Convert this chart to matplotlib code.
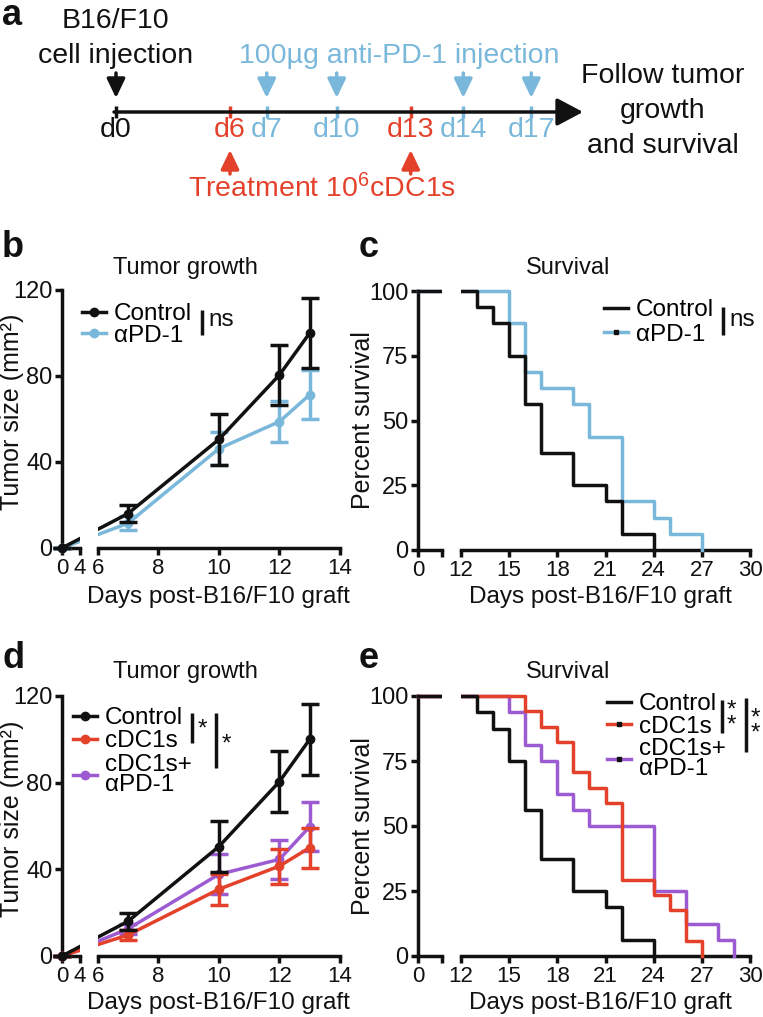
import numpy as np
import matplotlib
matplotlib.use("Agg")
import matplotlib.pyplot as plt
from matplotlib.lines import Line2D
from matplotlib.patches import Rectangle

plt.rcParams['font.family'] = ['Liberation Sans', 'DejaVu Sans']
plt.rcParams['mathtext.fontset'] = 'custom'
plt.rcParams['mathtext.rm'] = 'Liberation Sans'
plt.rcParams['mathtext.it'] = 'Liberation Sans:italic'
plt.rcParams['mathtext.bf'] = 'Liberation Sans:bold'

# ---------------- data ----------------
growth_days = [0, 7, 10, 12, 13]
growth_ctrl = [0, 16.0, 50.5, 80.5, 100.0]
growth_ctrl_err = [0, 4.0, 11.7, 14.0, 16.3]
growth_pd1 = [0, 11.5, 46.2, 58.8, 71.3]
growth_pd1_err = [0, 3.2, 7.6, 9.5, 11.3]
growth_cdc1 = [0, 9.7, 30.8, 41.5, 50.0]
growth_cdc1_err = [0, 2.5, 7.2, 8.1, 9.2]
growth_combo = [0, 12.5, 37.7, 44.6, 59.7]
growth_combo_err = [0, 2.5, 9.2, 9.0, 11.2]

surv_ctrl_t = [0, 13, 14, 15, 16, 17, 19, 21, 22, 24]
surv_ctrl = [100, 93.75, 87.5, 75, 56.25, 37.5, 25, 18.75, 6.25, 0]
surv_pd1_t = [0, 15, 16, 17, 19, 20, 22, 24, 25, 27]
surv_pd1 = [100, 87.5, 68.75, 62.5, 56.25, 43.75, 18.75, 12.5, 6.25, 0]
surv_cdc1_t = [0, 16, 17, 18, 19, 20, 21, 22, 24, 25, 26, 27]
surv_cdc1 = [100, 94.1, 88.2, 82.4, 70.6, 64.7, 58.8, 29.4, 23.5, 17.6, 5.9, 0]
surv_combo_t = [0, 15, 16, 17, 18, 19, 20, 24, 26, 28, 29]
surv_combo = [100, 93.75, 81.25, 75, 62.5, 56.25, 50, 25, 12.5, 6.25, 0]

growth_xticks_left = [0, 4]
growth_xticks_right = [6, 8, 10, 12, 14]
growth_yticks = [0, 40, 80, 120]
surv_xticks_left = [0, 7]
surv_xticklabels_left = ['0', '']
surv_xticks_right = [12, 15, 18, 21, 24, 27, 30]
surv_yticks = [0, 25, 50, 75, 100]

timeline_days = ['d0', 'd6', 'd7', 'd10', 'd13', 'd14', 'd17']
timeline_kind = ['cells', 'cdc1', 'pd1', 'pd1', 'cdc1', 'pd1', 'pd1']

# ---------------- style ----------------
W, H = 763, 1017
BLACK = '#111111'
BLUE = '#79B8DA'
RED = '#E4412B'
PURPLE = '#9D5BD2'
LW = 2.5
FS = 17.5      # labels, legends
FSTITLE = 17
FSY = 17       # y tick labels
FSX = 16       # x tick labels
FSA = 20.5     # panel a

fig = plt.figure(figsize=(W / 100, H / 100), dpi=100)


def px_rect(x0, x1, ytop, ybot):
    return [x0 / W, 1 - ybot / H, (x1 - x0) / W, (ybot - ytop) / H]


def make_funcs(D, P):
    D = np.asarray(D, float)
    P = np.asarray(P, float)

    def lin(x, A, B):
        x = np.asarray(x, float)
        y = np.interp(x, A, B)
        y = np.where(x < A[0], B[0] + (x - A[0]) * (B[1] - B[0]) / (A[1] - A[0]), y)
        y = np.where(x > A[-1], B[-1] + (x - A[-1]) * (B[-1] - B[-2]) / (A[-1] - A[-2]), y)
        return y

    return (lambda x: lin(x, D, P)), (lambda y: lin(y, P, D))


def broken_axes(D, P, x0, ytop, ybot, ylim, yticks):
    fwd, inv = make_funcs(D, P)
    axL = fig.add_axes(px_rect(x0 + P[0], x0 + P[1], ytop, ybot))
    axR = fig.add_axes(px_rect(x0 + P[2], x0 + P[-1], ytop, ybot))
    for ax, lim in ((axL, (D[0], D[1])), (axR, (D[2], D[-1]))):
        ax.set_xscale('function', functions=(fwd, inv))
        ax.set_xlim(lim)
        ax.set_ylim(ylim)
        ax.patch.set_visible(False)
        for s in ('top', 'right'):
            ax.spines[s].set_visible(False)
        for s in ('left', 'bottom'):
            ax.spines[s].set_linewidth(LW)
            ax.spines[s].set_color(BLACK)
        ax.tick_params(direction='out', length=5, width=LW, colors=BLACK, pad=2)
        ax.tick_params(axis='x', labelsize=FSX)
        ax.tick_params(axis='y', labelsize=FSY)
    axL.set_yticks(yticks)
    axR.spines['left'].set_visible(False)
    axR.tick_params(axis='y', left=False, labelleft=False)
    return axL, axR


def clip_all(axL, axR):
    for ax, rect in ((axL, (-0.8, -0.06, 1.8, 1.2)), (axR, (0.0, -0.06, 1.1, 1.2))):
        r = Rectangle(rect[:2], rect[2], rect[3], transform=ax.transAxes)
        for art in list(ax.lines) + list(ax.collections):
            art.set_clip_path(r)


def growth_series(axs, y, err, color, z):
    handle = None
    for ax in axs:
        cont = ax.errorbar(growth_days, y, yerr=err, color=color, lw=LW,
                           marker='o', ms=6, elinewidth=LW, capsize=6.5,
                           capthick=LW, zorder=z)
        handle = cont[0]
    return handle


def surv_series(axs, t, s, color, z):
    for ax in axs:
        ax.step(t, s, where='post', color=color, lw=LW, zorder=z)


# overlay in pixel coordinates for annotations
ov = fig.add_axes([0, 0, 1, 1], zorder=10)
ov.set_xlim(0, W)
ov.set_ylim(H, 0)
ov.axis('off')
ov.patch.set_visible(False)

# ---------------- panel a ----------------
tl_x = [116, 230, 266.7, 336.7, 410.7, 463.3, 531.3]
kind_color = {'cells': BLACK, 'cdc1': RED, 'pd1': BLUE}
ov.annotate('', xy=(583, 112), xytext=(114, 112),
            arrowprops=dict(arrowstyle='-|>,head_length=1.6,head_width=0.85',
                            mutation_scale=10, lw=LW, color=BLACK,
                            shrinkA=0, shrinkB=0))
for lab, kind, x in zip(timeline_days, timeline_kind, tl_x):
    c = kind_color[kind]
    ov.plot([x, x], [106, 118], color=c, lw=LW, solid_capstyle='butt')
    ov.text(x, 137, lab, color=c, fontsize=FSA, ha='center', va='baseline')
    if kind == 'cdc1':
        tail, tip = 174, 150
    else:
        tail, tip = 73, 98
    ov.annotate('', xy=(x, tip), xytext=(x, tail),
                arrowprops=dict(arrowstyle='-|>,head_length=1.15,head_width=0.55',
                                mutation_scale=10, lw=LW, color=c,
                                shrinkA=0, shrinkB=0))
ov.text(115, 28, 'B16/F10', fontsize=FSA, ha='center', va='baseline', color=BLACK)
ov.text(115.5, 63, 'cell injection', fontsize=FSA, ha='center', va='baseline', color=BLACK)
ov.text(399.5, 63, '100µg anti-PD-1 injection', fontsize=FSA, ha='center',
        va='baseline', color=BLUE)
ov.text(322, 197, 'Treatment 10$^{6}$cDC1s', fontsize=FSA, ha='center',
        va='baseline', color=RED)
for yb, line in zip([83, 118, 153], ['Follow tumor', 'growth', 'and survival']):
    ov.text(663, yb, line, fontsize=FSA, ha='center', va='baseline', color=BLACK)

# panel letters
for lx, ly, letter in [(2, 25, 'a'), (2, 257, 'b'), (359, 257, 'c'),
                       (2, 668, 'd'), (359, 668, 'e')]:
    ov.text(lx, ly, letter, fontsize=26, fontweight='bold', ha='left',
            va='baseline', color=BLACK)

# ---------------- panel b ----------------
GD = [0, 4, 6, 14]
GP = [0, 18, 35.7, 278]
bL, bR = broken_axes(GD, GP, 62, 290, 548, (0, 120), growth_yticks)
h_ctrl_b = growth_series((bL, bR), growth_ctrl, growth_ctrl_err, BLACK, 5)
h_pd1_b = growth_series((bL, bR), growth_pd1, growth_pd1_err, BLUE, 4)
bL.set_xticks(growth_xticks_left)
bR.set_xticks(growth_xticks_right)
for ax in (bL, bR):
    ax.set_xticklabels([str(v) for v in ax.get_xticks()])
clip_all(bL, bR)

# ---------------- panel d ----------------
dL, dR = broken_axes(GD, GP, 62, 696, 956, (0, 120), growth_yticks)
h_ctrl_d = growth_series((dL, dR), growth_ctrl, growth_ctrl_err, BLACK, 5)
h_combo_d = growth_series((dL, dR), growth_combo, growth_combo_err, PURPLE, 3)
h_cdc1_d = growth_series((dL, dR), growth_cdc1, growth_cdc1_err, RED, 4)
dL.set_xticks(growth_xticks_left)
dR.set_xticks(growth_xticks_right)
for ax in (dL, dR):
    ax.set_xticklabels([str(v) for v in ax.get_xticks()])
clip_all(dL, dR)

# ---------------- panel c ----------------
SD = [0, 7, 12, 30]
SP = [0, 24, 43, 332]
cL, cR = broken_axes(SD, SP, 418, 291, 550, (0, 100), surv_yticks)
surv_series((cL, cR), surv_pd1_t, surv_pd1, BLUE, 3)
surv_series((cL, cR), surv_ctrl_t, surv_ctrl, BLACK, 4)
cL.set_xticks(surv_xticks_left)
cL.set_xticklabels(surv_xticklabels_left)
cR.set_xticks(surv_xticks_right)
cR.set_xticklabels([str(v) for v in surv_xticks_right])
clip_all(cL, cR)

# ---------------- panel e ----------------
eL, eR = broken_axes(SD, SP, 418, 696, 956, (0, 100), surv_yticks)
surv_series((eL, eR), surv_combo_t, surv_combo, PURPLE, 3)
surv_series((eL, eR), surv_cdc1_t, surv_cdc1, RED, 4)
surv_series((eL, eR), surv_ctrl_t, surv_ctrl, BLACK, 5)
eL.set_xticks(surv_xticks_left)
eL.set_xticklabels(surv_xticklabels_left)
eR.set_xticks(surv_xticks_right)
eR.set_xticklabels([str(v) for v in surv_xticks_right])
clip_all(eL, eR)

# ---------------- titles & labels ----------------
for (x, y, t) in [(185.5, 268, 'Tumor growth'), (568, 268, 'Survival'),
                  (185.5, 672, 'Tumor growth'), (568, 672, 'Survival')]:
    ov.text(x, y, t, fontsize=FSTITLE, ha='center', va='center', color=BLACK)
for (x, y) in [(218.5, 597), (600, 597), (218.5, 1003), (600, 1003)]:
    ov.text(x, y, 'Days post-B16/F10 graft', fontsize=FS, ha='center',
            va='center', color=BLACK)
for (x, y, t) in [(12, 412, 'Tumor size (mm²)'), (12, 819, 'Tumor size (mm²)'),
                  (363, 420, 'Percent survival'), (363, 826, 'Percent survival')]:
    ov.text(x, y, t, fontsize=FS + 0.5, ha='center', va='center', rotation=90,
            color=BLACK)

# ---------------- legends ----------------
leg_kw = dict(loc='upper left', frameon=False, fontsize=FS, handlelength=1.0,
              handletextpad=0.3, borderpad=0,
              borderaxespad=0, bbox_transform=ov.transData)


def add_legend(handles, labels, anchor, spacing, linesp):
    leg = fig.legend(handles, labels, bbox_to_anchor=anchor,
                     labelspacing=spacing, **leg_kw)
    for t in leg.get_texts():
        t.set_linespacing(linesp)
    return leg


add_legend([h_ctrl_b, h_pd1_b], ['Control', 'αPD-1'], (82, 303), -0.02, 1.0)
add_legend([h_ctrl_d, h_cdc1_d, h_combo_d], ['Control', 'cDC1s', 'cDC1s+\nαPD-1'],
           (73, 707), 0.06, 0.9)
sh_ctrl = Line2D([], [], color=BLACK, lw=LW)
sh_pd1 = Line2D([], [], color=BLUE, lw=LW, marker='s', ms=2.5, mfc=BLACK, mec=BLACK)
sh_cdc1 = Line2D([], [], color=RED, lw=LW, marker='s', ms=2.5, mfc=BLACK, mec=BLACK)
sh_combo = Line2D([], [], color=PURPLE, lw=LW, marker='s', ms=2.5, mfc=BLACK, mec=BLACK)
add_legend([sh_ctrl, sh_pd1], ['Control', 'αPD-1'], (604, 299), 0.12, 1.0)
add_legend([sh_ctrl, sh_cdc1, sh_combo], ['Control', 'cDC1s', 'cDC1s+\nαPD-1'],
           (607, 693), 0.02, 0.9)

# ---------------- significance marks ----------------
def sig(x, y0, y1, label, tx, ty, fs=FS):
    ov.plot([x, x], [y0, y1], color=BLACK, lw=LW, solid_capstyle='butt')
    ov.text(tx, ty, label, fontsize=fs, ha='left', va='center', color=BLACK,
            linespacing=0.55)

sig(202, 310, 335, 'ns', 208, 320)
sig(723, 307, 335, 'ns', 729, 320)
sig(191.7, 713, 743, '*', 198, 730)
sig(216, 713, 768, '*', 222, 745)
sig(721.7, 700, 733, '*\n*', 727, 718)
sig(745.7, 698, 752, '*\n*', 751, 726)

fig.savefig('out.png', dpi=100)
